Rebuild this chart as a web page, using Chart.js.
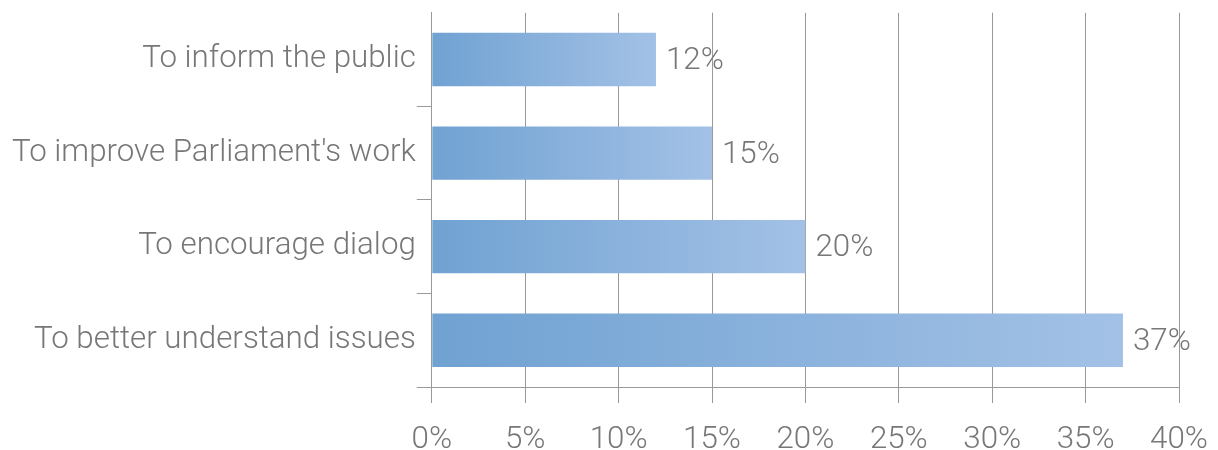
<!DOCTYPE html>
<html>
<head>
<meta charset="utf-8">
<script src="https://cdn.jsdelivr.net/npm/chart.js@4/dist/chart.umd.min.js"></script>
<style>
html, body { margin: 0; padding: 0; background: #fff; }
#wrap { width: 1218px; height: 450px; }
</style>
</head>
<body>
<div id="wrap"><canvas id="myChart"></canvas></div>
<script>
var reasons = ['To inform the public', "To improve Parliament's work", 'To encourage dialog', 'To better understand issues'];
var shares = [12, 15, 20, 37];
var xTicks = [0, 5, 10, 15, 20, 25, 30, 35, 40];

var textGray = '#777';
var lineGray = '#999';

// each bar gets its own left-to-right fade, dark blue to light blue
function barFill(c) {
    var chart = c.chart;
    var x = chart.scales.x;
    if (!x || c.dataIndex === undefined) return '#7fa9d8';
    var x0 = x.getPixelForValue(0);
    var x1 = x.getPixelForValue(shares[c.dataIndex]);
    if (!isFinite(x0) || !isFinite(x1) || x1 <= x0) return '#7fa9d8';
    var g = chart.ctx.createLinearGradient(x0, 0, x1, 0);
    g.addColorStop(0, '#70a2d2');
    g.addColorStop(1, '#a3c1e6');
    return g;
}

// value text to the right of each bar
var valueLabels = {
    id: 'valueLabels',
    afterDatasetsDraw: function(chart) {
        var ctx = chart.ctx;
        var meta = chart.getDatasetMeta(0);
        ctx.save();
        ctx.font = '300 31.3px Roboto';
        ctx.fillStyle = textGray;
        ctx.textAlign = 'left';
        ctx.textBaseline = 'middle';
        meta.data.forEach(function(bar, i) {
            ctx.fillText(shares[i] + '%', bar.x + 10, bar.y + 2);
        });
        ctx.restore();
    }
};

var ctx = document.getElementById('myChart').getContext('2d');
var chart = new Chart(ctx, {
    type: 'bar',
    data: {
        labels: reasons,
        datasets: [{
            data: shares,
            backgroundColor: barFill,
            borderWidth: 0,
            barPercentage: 0.57,
            categoryPercentage: 1
        }]
    },
    options: {
        indexAxis: 'y',
        responsive: true,
        maintainAspectRatio: false,
        animation: false,
        layout: { padding: { top: 0, left: 11, right: 0, bottom: -27 } },
        plugins: {
            legend: { display: false },
            tooltip: { enabled: false }
        },
        scales: {
            x: {
                min: 0,
                max: 40,
                afterBuildTicks: function(s) {
                    s.ticks = xTicks.map(function(v) { return { value: v }; });
                },
                // keep just enough room on the right for the last tick label
                afterFit: function(s) {
                    s.paddingRight = 39;
                },
                grid: {
                    color: lineGray,
                    lineWidth: 1,
                    tickLength: 16
                },
                border: { display: true, color: lineGray },
                ticks: {
                    color: textGray,
                    font: { family: 'Roboto', weight: '300', size: 31.3, lineHeight: 0.83 },
                    padding: 24,
                    callback: function(v) { return v + '%'; }
                }
            },
            y: {
                grid: {
                    offset: true,
                    drawOnChartArea: false,
                    tickLength: 15,
                    color: function(c) { return c.index === 0 ? 'rgba(0,0,0,0)' : lineGray; }
                },
                border: { display: true, color: lineGray },
                ticks: {
                    color: textGray,
                    font: { family: 'Roboto', weight: '300', size: 31.3, lineHeight: 0.75 },
                    padding: 1
                }
            }
        }
    },
    plugins: [valueLabels]
});
</script>
</body>
</html>
